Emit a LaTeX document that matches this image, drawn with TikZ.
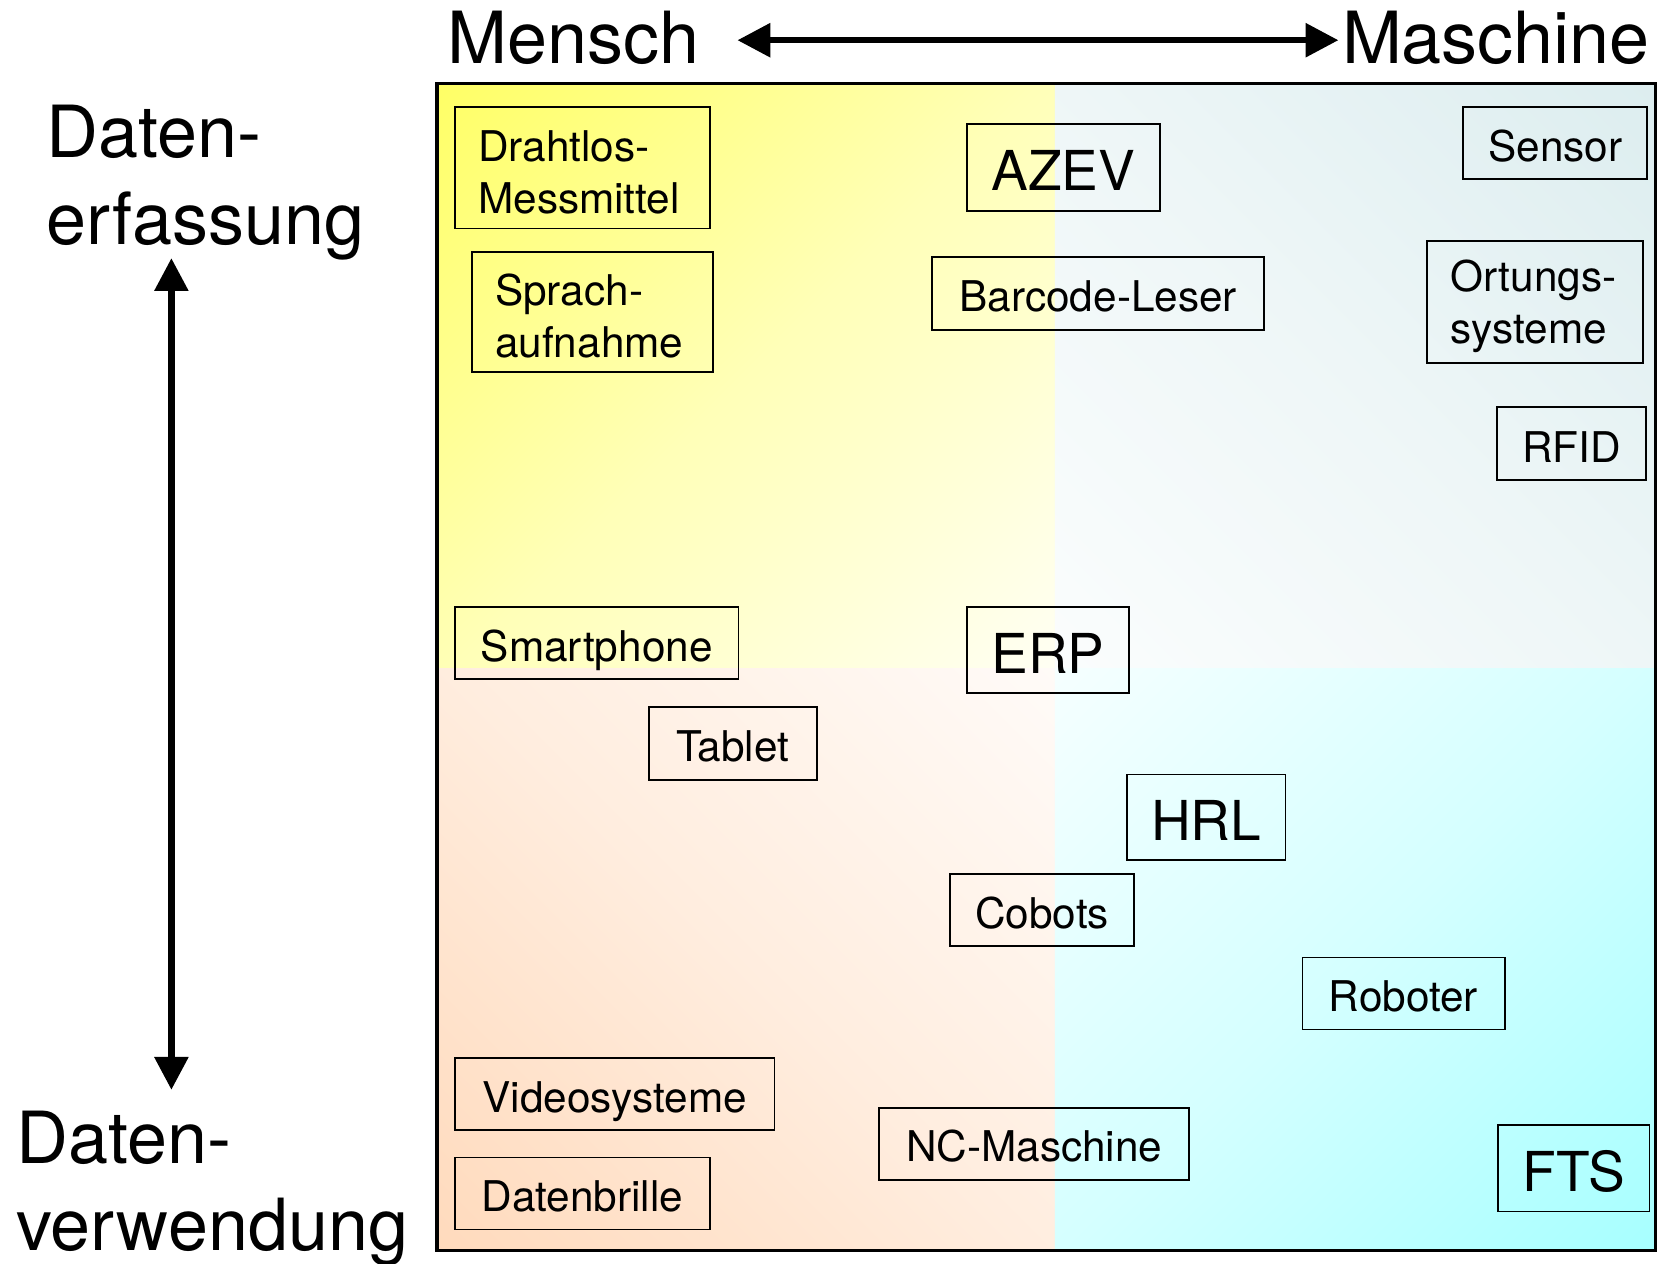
\documentclass[tikz,border=0pt]{standalone}
\usepackage{fontspec}
\setmainfont{TeX Gyre Heros}
\usetikzlibrary{arrows.meta}

\definecolor{quadYellow}{RGB}{255,255,100}
\definecolor{quadGrey}{RGB}{220,237,239}
\definecolor{quadPeach}{RGB}{255,218,188}
\definecolor{quadCyan}{RGB}{166,255,255}
\definecolor{endYellow}{RGB}{255,255,244}
\definecolor{endGrey}{RGB}{251,253,253}
\definecolor{endPeach}{RGB}{255,251,248}
\definecolor{endCyan}{RGB}{246,255,255}

% corner-to-corner fades, one per quadrant (pale end at 0bp, strong end at 100bp)
\pgfdeclareverticalshading{fadeYellow}{100bp}{color(0bp)=(endYellow); color(14bp)=(endYellow);
  color(50bp)=(quadYellow!42!endYellow); color(86bp)=(quadYellow); color(100bp)=(quadYellow)}
\pgfdeclareverticalshading{fadeGrey}{100bp}{color(0bp)=(endGrey); color(14bp)=(endGrey);
  color(50bp)=(quadGrey!42!endGrey); color(86bp)=(quadGrey); color(100bp)=(quadGrey)}
\pgfdeclareverticalshading{fadePeach}{100bp}{color(0bp)=(endPeach); color(14bp)=(endPeach);
  color(50bp)=(quadPeach!42!endPeach); color(86bp)=(quadPeach); color(100bp)=(quadPeach)}
\pgfdeclareverticalshading{fadeCyan}{100bp}{color(0bp)=(endCyan); color(14bp)=(endCyan);
  color(50bp)=(quadCyan!42!endCyan); color(86bp)=(quadCyan); color(100bp)=(quadCyan)}

% pushes the first line of a two-line box down a little
\newcommand\itemstrut{\rule{0pt}{19pt}}

\tikzset{
  item/.style={draw=black, line width=0.9pt, inner sep=0pt,
    font=\fontsize{20}{24.5}\selectfont},
  oneline/.style={item, text height=17.2pt, text depth=0pt},
  twoline/.style={item, align=left},
  bigitem/.style={item, font=\fontsize{26}{31}\selectfont,
    text height=22.2pt, text depth=0pt},
  axislabel/.style={inner sep=0pt, font=\fontsize{34}{41}\selectfont, align=left},
  bigarrow/.style={line width=3pt,
    {Triangle[length=15.5pt,width=15.5pt]}-{Triangle[length=15.5pt,width=15.5pt]}},
}

\begin{document}
\begin{tikzpicture}[x=0.5pt,y=-0.5pt]
\useasboundingbox (0,0) rectangle (1568,1194);

% four shaded quadrants of the field
\shade[shading=fadeYellow, shading angle=45]  (413,79) rectangle (997,632);
\shade[shading=fadeGrey, shading angle=-45]   (997,79) rectangle (1565,632);
\shade[shading=fadePeach, shading angle=135]  (413,632) rectangle (997,1182);
\shade[shading=fadeCyan, shading angle=-135]  (997,632) rectangle (1565,1182);

% outer frame
\draw[line width=1.5pt] (413,79) rectangle (1565,1182);

% axis labels
\node[axislabel, anchor=base west] (mensch) at (423,60) {Mensch};
\node[axislabel, anchor=base west] (maschine) at (1268,60) {Maschine};
\node[axislabel, anchor=north west] (erfassung) at (44,99) {Daten-\\erfassung};
\node[axislabel, anchor=north west] (verwendung) at (15,1050) {Daten-\\verwendung};

% axis arrows
\coordinate (hl) at (697,38);
\coordinate (hr) at (1265,38);
\coordinate (vt) at (162,244);
\coordinate (vb) at (162,1030);
\draw[bigarrow] (hl) -- (hr);
\draw[bigarrow] (vt) -- (vb);

% items
\node[twoline, text width=98.5pt, minimum width=120.5pt, minimum height=57.5pt] (drahtlos)
  at (550.5,158.5) {\itemstrut Drahtlos-\\Messmittel};
\node[twoline, text width=92pt, minimum width=114pt, minimum height=57pt] (sprach)
  at (560,295) {\itemstrut Sprach-\\aufnahme};
\node[bigitem, minimum width=91pt, minimum height=41pt] (azev) at (1005,158) {AZEV};
\node[oneline, minimum width=157pt, minimum height=34.5pt] (barcode) at (1038,277.5) {Barcode-Leser};
\node[oneline, minimum width=87pt, minimum height=34pt] (sensor) at (1470,135) {Sensor};
\node[twoline, text width=80pt, minimum width=102pt, minimum height=57.5pt] (ortung)
  at (1451,285.5) {\itemstrut Ortungs-\\systeme};
\node[oneline, minimum width=70.5pt, minimum height=34.5pt] (rfid) at (1485.5,419.5) {RFID};
\node[oneline, minimum width=134pt, minimum height=34pt] (smartphone) at (564,608) {Smartphone};
\node[bigitem, minimum width=76.5pt, minimum height=40.5pt] (erp) at (990.5,614.5) {ERP};
\node[oneline, minimum width=79.5pt, minimum height=34.5pt] (tablet) at (692.5,702.5) {Tablet};
\node[bigitem, minimum width=75pt, minimum height=40.5pt] (hrl) at (1140,772.5) {HRL};
\node[oneline, minimum width=87pt, minimum height=34pt] (cobots) at (985,860) {Cobots};
\node[oneline, minimum width=95.5pt, minimum height=34pt] (roboter) at (1326.5,939) {Roboter};
\node[oneline, minimum width=151pt, minimum height=34pt] (video) at (581,1034) {Videosysteme};
\node[oneline, minimum width=120.5pt, minimum height=34pt] (brille) at (550.5,1128) {Datenbrille};
\node[oneline, minimum width=146.5pt, minimum height=34pt] (nc) at (977.5,1081) {NC-Maschine};
\node[bigitem, minimum width=71.5pt, minimum height=41pt] (fts) at (1487.5,1104) {FTS};
\end{tikzpicture}
\end{document}
